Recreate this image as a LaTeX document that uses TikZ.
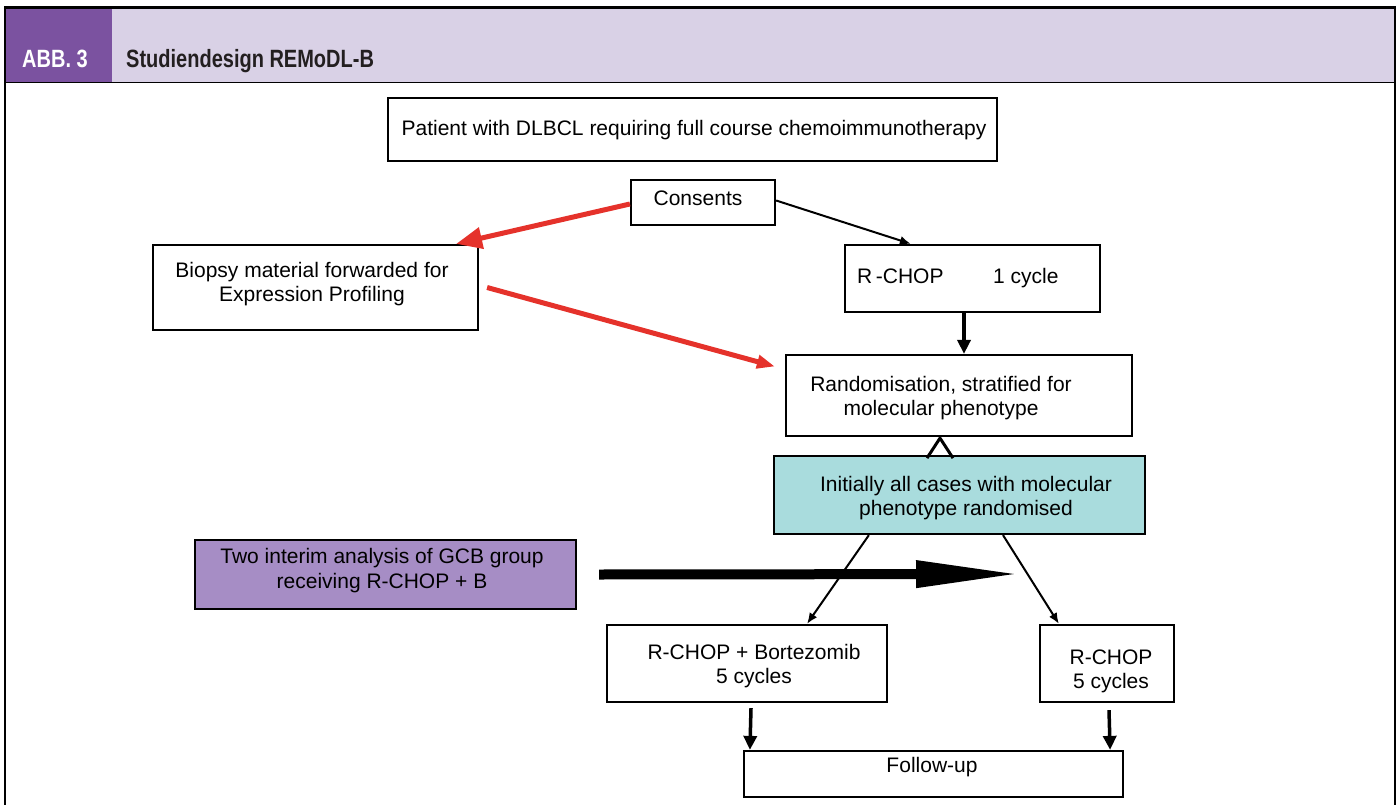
\documentclass[tikz,border=0pt]{standalone}
\usepackage{fontspec}
\setmainfont{Liberation Sans}
\newfontfamily\headfont{Liberation Sans Bold}[FakeStretch=0.8]
\usetikzlibrary{arrows.meta,calc}
\definecolor{hdrband}{HTML}{D9D1E6}
\definecolor{hdrbox}{HTML}{7B52A0}
\definecolor{hdrtext}{HTML}{231F20}
\definecolor{cyanbox}{HTML}{A9DCDD}
\definecolor{purplebox}{HTML}{A68DC5}
\definecolor{redarrow}{HTML}{E5322B}
\tikzset{
  box/.style={draw, line width=2.2pt, inner sep=0pt},
  txt/.style={inner sep=0pt, align=center, font=\fontsize{21}{24.5}\selectfont},
  thinarrow/.style={line width=2pt, -{Latex[length=11pt,width=9pt]}},
  thickarrow/.style={line width=3.5pt, -{Triangle[length=14pt,width=13pt]}},
  redline/.style={line width=5pt, draw=redarrow},
}
\begin{document}
\begin{tikzpicture}[x=1pt,y=-1pt]
\useasboundingbox (0,0) rectangle (1399,805);
% header frame
\fill[hdrband] (5,9) rectangle (1395,83);
\fill[hdrbox] (5,9) rectangle (112,83);
\draw[line width=3pt] (4,8) -- (1396,8);
\draw[line width=1.5pt] (5,8) -- (5,805);
\draw[line width=1.5pt] (1395,8) -- (1395,805);
\draw[line width=1pt] (5,83) -- (1395,83);
\node[anchor=base west, inner sep=0pt, text=white, font=\headfont\fontsize{25}{28}\selectfont] (abb) at (22,68) {ABB. 3};
\node[anchor=base west, inner sep=0pt, text=hdrtext, font=\headfont\fontsize{25}{28}\selectfont] (title) at (126,68) {Studiendesign REMoDL-B};
% boxes
\node[box, minimum width=609pt, minimum height=63pt] (pat) at (692.5,129.5) {};
\node[box, minimum width=144pt, minimum height=45pt] (cons) at (703,202.5) {};
\node[box, minimum width=325pt, minimum height=85pt] (bio) at (315.5,287.5) {};
\node[box, minimum width=255pt, minimum height=67pt] (rc1) at (972.5,278.5) {};
\node[box, minimum width=346pt, minimum height=81pt] (rand) at (959,395.5) {};
\node[box, fill=cyanbox, minimum width=371pt, minimum height=78pt] (init) at (959.5,495) {};
\node[box, fill=purplebox, minimum width=381pt, minimum height=69pt] (two) at (385.5,574.5) {};
\node[box, minimum width=280pt, minimum height=77pt] (rcb) at (747,663.5) {};
\node[box, minimum width=134pt, minimum height=77pt] (rc5) at (1107,663.5) {};
\node[box, minimum width=379pt, minimum height=46pt] (fu) at (933.5,774) {};
% texts
\node[txt, anchor=base] (patT) at (694,136) {Patient with DLBCL requiring full course chemoimmunotherapy};
\node[txt, anchor=base] (consT) at (698,205) {Consents};
\node[txt] (bioT) at (312,284) {Biopsy material forwarded for\\Expression Profiling};
\node[txt, anchor=base west] (rc1T) at (857,283) {R\,-CHOP};
\node[txt, anchor=base west] (rc1C) at (993,283) {1 cycle};
\node[txt] (randT) at (941,398) {Randomisation, stratified for\\molecular phenotype};
\node[txt] (initT) at (966,498) {Initially all cases with molecular\\phenotype randomised};
\node[txt] (twoT) at (382,570.5) {Two interim analysis of GCB group\\receiving R-CHOP + B};
\node[txt] (rcbT) at (754,666) {R-CHOP + Bortezomib\\5 cycles};
\node[txt] (rc5T) at (1111,671.5) {R-CHOP\\5 cycles};
\node[txt, anchor=base] (fuT) at (932,772.5) {Follow-up};
% connectors
\draw[thinarrow] ($(cons.east)+(0,-2)$) -- ($(rc1.north west)+(67,0)$);
\draw[redline, -{Triangle[length=26pt,width=21pt]}, redarrow] ($(cons.west)+(0,1.5)$) -- ($(bio.north east)+(-23,0)$);
\draw[redline, -{Triangle[length=18pt,width=13pt]}, redarrow] ($(bio.east)+(8,0)$) -- ($(rand.west)+(-10,-29)$);
\draw[thickarrow] ($(rc1.south)+(-8.5,0)$) -- ($(rand.north)+(5,0)$);
\coordinate (capex) at ($(rand.south)+(-19,1)$);
\draw[line width=3pt, line join=miter] ($(capex)+(-13,20)$) -- (capex) -- ($(capex)+(13,20)$);
\draw[thinarrow] ($(init.south west)+(96,0)$) -- ($(rcb.north)+(60,0)$);
\draw[thinarrow] ($(init.south)+(43.5,0)$) -- ($(rc5.north west)+(20,0)$);
\coordinate (bigend) at (1021,574);
\draw[line width=10pt, -{Triangle[length=105pt,width=25pt]}] ($(two.east)+(22,0)$) -- (bigend);
\draw[thickarrow] ($(rcb.south)+(4,5)$) -- ($(fu.north west)+(7,0)$);
\draw[thickarrow] ($(rc5.south)+(2,7)$) -- ($(fu.north east)+(-14,0)$);
\end{tikzpicture}
\end{document}
